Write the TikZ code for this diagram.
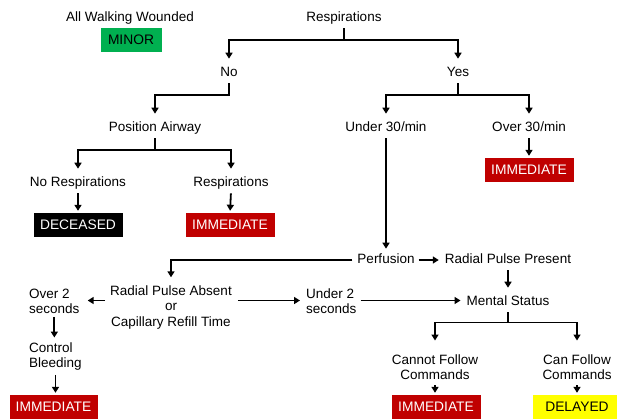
\documentclass[tikz,border=0pt]{standalone}
\usepackage{fontspec}
\setmainfont{Liberation Sans}
\usetikzlibrary{arrows.meta,calc}
\definecolor{gr}{RGB}{0,176,80}
\definecolor{rd}{RGB}{192,0,0}
\definecolor{yl}{RGB}{255,255,0}
\begin{document}
\begin{tikzpicture}[x=1pt,y=-1pt,
  every node/.style={font=\fontsize{13.5}{15.5}\selectfont},
  txt/.style={text height=9.5pt,text depth=2.7pt,inner sep=2pt},
  mtxt/.style={inner sep=2pt},
  box/.style={minimum width=89pt,minimum height=24pt,inner sep=0pt,font=\fontsize{13.8}{15.5}\selectfont},
  arr/.style={line width=1.8pt,-{Triangle[length=6pt,width=7pt]},shorten <=2pt,shorten >=6pt}]
\useasboundingbox (0,0) rectangle (617,418);
\coordinate (h40) at (0,40);
\coordinate (h95) at (0,95);
\coordinate (h150) at (0,150);
\coordinate (h300) at (0,300.5);
\coordinate (h323) at (0,322.5);
\node[txt] (aww) at (130,18) {All Walking Wounded};
\node[box,fill=gr,minimum width=61pt] (minor) at (131,40) {MINOR};
\node[txt] (resp) at (344,18) {Respirations};
\node[txt] (no) at (229,73) {No};
\node[txt] (yes) at (458,73) {Yes};
\node[txt] (pa) at (155,128) {Position Airway};
\node[txt] (u30) at (386,128) {Under 30/min};
\node[txt] (o30) at (529,128) {Over 30/min};
\node[txt] (nor) at (78,183) {No Respirations};
\node[txt] (r2) at (231,183) {Respirations};
\node[box,fill=black,text=white] (dec) at (78,225) {DECEASED};
\node[box,fill=rd,text=white] (imm1) at (230,225) {IMMEDIATE};
\node[box,fill=rd,text=white] (imm2) at (529,170) {IMMEDIATE};
\node[txt] (perf) at (386,260) {Perfusion};
\node[txt] (rpp) at (508,260) {Radial Pulse Present};
\node[mtxt,align=center,anchor=north] (rpa) at (171,283.3) {Radial Pulse Absent\\or\\Capillary Refill Time};
\node[mtxt,align=left,anchor=north west] (o2) at (27,286.5) {Over 2\\seconds};
\node[mtxt,align=left,anchor=north west] (u2) at (304,286.5) {Under 2\\seconds};
\node[txt] (ms) at (508,302) {Mental Status};
\node[mtxt,align=left,anchor=north west] (cb) at (27,340.5) {Control\\Bleeding};
\node[box,fill=rd,text=white,minimum width=88pt] (imm3) at (53.5,407) {IMMEDIATE};
\node[mtxt,align=center,anchor=north] (cfc) at (435,352.5) {Cannot Follow\\Commands};
\node[mtxt,align=center,anchor=north] (canf) at (577,352.5) {Can Follow\\Commands};
\node[box,fill=rd,text=white] (imm4) at (436,407) {IMMEDIATE};
\node[box,fill=yl] (del) at (577,407) {DELAYED};
\draw[arr] (resp.south) -- (resp.south |- h40) -| (no.north);
\draw[arr] (resp.south) -- (resp.south |- h40) -| (yes.north);
\draw[arr] (no.south) -- (no.south |- h95) -| (pa.north);
\draw[arr] (yes.south) -- (yes.south |- h95) -| (u30.north);
\draw[arr] (yes.south) -- (yes.south |- h95) -| (o30.north);
\draw[arr] (pa.south) -- (pa.south |- h150) -| (nor.north);
\draw[arr] (pa.south) -- (pa.south |- h150) -| (r2.north);
\draw[arr,shorten >=2pt] (nor.south) -- (dec.north);
\draw[arr,shorten >=2pt] (r2.south) -- (imm1.north);
\draw[arr,shorten >=2pt] (o30.south) -- (imm2.north);
\draw[arr,shorten >=3pt] (u30.south) -- (perf.north);
\draw[arr,shorten <=3pt] (perf.west) -| (rpa.north);
\draw[arr,shorten >=4pt] (perf.east) -- (rpp.west);
\draw[arr,shorten >=6pt] (rpp.south) -- (ms.north);
\draw[arr,shorten <=3pt] (rpa.west |- h300) -- (o2.east |- h300);
\draw[arr,shorten <=4pt,shorten >=4pt] (rpa.east |- h300) -- (u2.west |- h300);
\draw[arr,shorten >=4pt] (u2.east |- h300) -- (ms.west |- h300);
\draw[arr,shorten <=1pt,shorten >=3pt] (o2.south) -- (o2.south |- cb.north);
\draw[arr,shorten >=2pt] (cb.south) -- (cb.south |- imm3.north);
\draw[arr,shorten >=12pt] (ms.south) -- (ms.south |- h323) -| (cfc.north);
\draw[arr,shorten >=12pt] (ms.south) -- (ms.south |- h323) -| (canf.north);
\draw[arr,shorten <=3pt,shorten >=2pt] (cfc.south) -- (cfc.south |- imm4.north);
\draw[arr,shorten <=3pt,shorten >=2pt] (canf.south) -- (canf.south |- del.north);
\end{tikzpicture}
\end{document}
